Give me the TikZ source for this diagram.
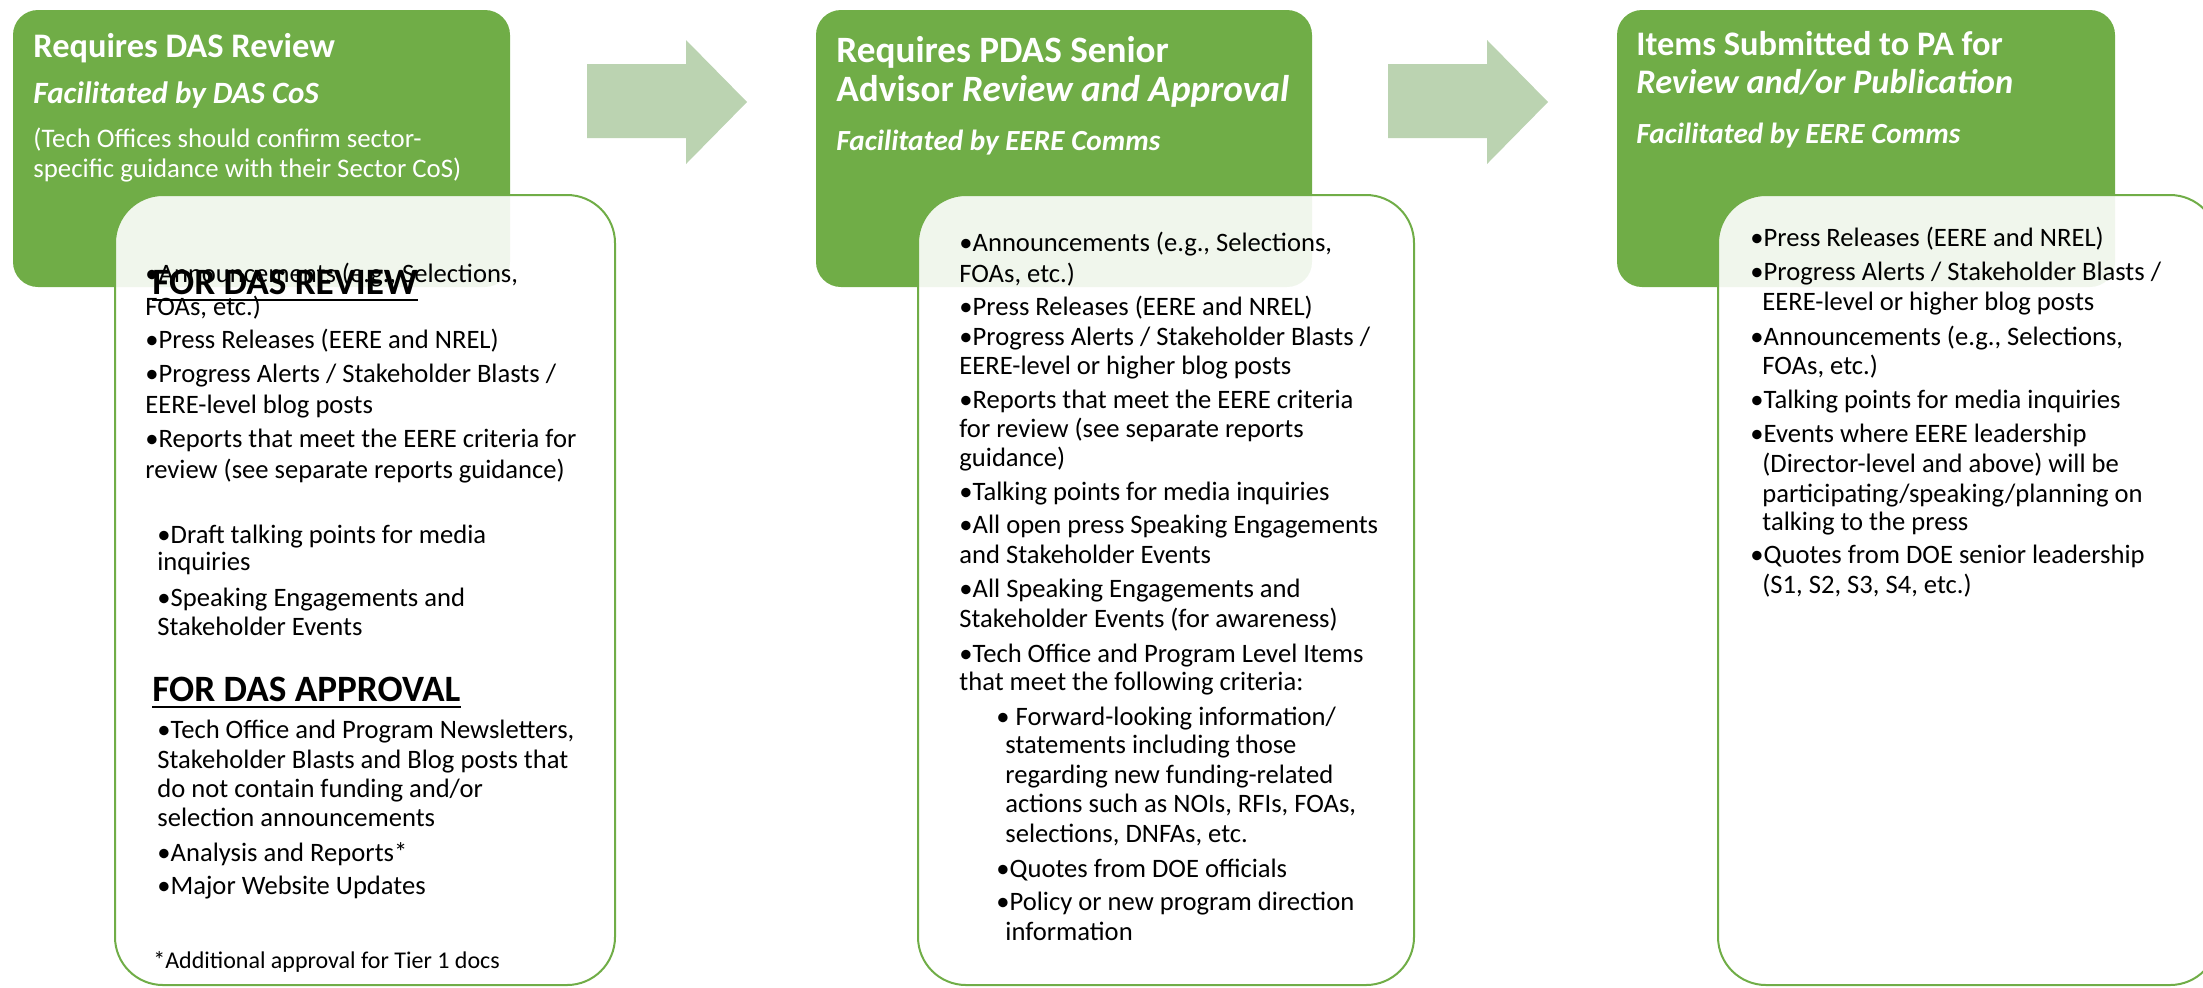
\documentclass[tikz,border=0pt]{standalone}
\usepackage{fontspec}
\setmainfont{Carlito}
\definecolor{ggreen}{HTML}{70AD47}
\definecolor{arrowc}{HTML}{BBD3B1}
\newcommand\bodyf{\fontsize{13.3}{16}\selectfont}
\newcommand\smallf{\fontsize{12}{14}\selectfont}
\newcommand\titf{\fontsize{18.6}{22}\selectfont\bfseries}
\newcommand\titsf{\fontsize{17.2}{20}\selectfont\bfseries}
\newcommand\subf{\fontsize{14.6}{17}\selectfont\bfseries\itshape}
\begin{document}
\begin{tikzpicture}[x=0.5pt,y=-0.5pt,
  gbox/.style={fill=ggreen,rounded corners=12.5pt},
  wbox/.style={draw=ggreen,line width=1pt,fill=white,fill opacity=0.9,rounded corners=24pt},
  harrow/.style={fill=arrowc},
  txt/.style={anchor=base west,inner sep=0pt,font=\bodyf,text=black},
  ttl/.style={anchor=base west,inner sep=0pt,font=\titf,text=white},
  sub/.style={anchor=base west,inner sep=0pt,font=\subf,text=white},
  wtxt/.style={anchor=base west,inner sep=0pt,font=\fontsize{13.4}{16}\selectfont,text=white},
  hdr/.style={anchor=base west,inner sep=0pt,font=\fontsize{18.6}{22}\selectfont\bfseries,text=black},
  uline/.style={line width=1.2pt,black}]
\useasboundingbox (0,0) rectangle (2203,987);
\clip (0,0) rectangle (2203,987);
% green boxes
\fill[gbox] (13,10) rectangle (510,287);
\fill[gbox] (816,10) rectangle (1312,287);
\fill[gbox] (1617,10) rectangle (2115,287);
% white boxes
\path[wbox] (115,195) rectangle (615,985);
\path[wbox] (918,195) rectangle (1414,985);
\path[wbox] (1718,195) rectangle (2218,985);
% arrows
\fill[harrow] (587,64) -- (686,64) -- (686,40) -- (747,102) -- (686,164) -- (686,138) -- (587,138) -- cycle;
\fill[harrow] (1388,64) -- (1487,64) -- (1487,40) -- (1548,102) -- (1487,164) -- (1487,138) -- (1388,138) -- cycle;
% column 1 header
\node[ttl,font=\titsf] (t1a) at (33,57) {Requires DAS Review};
\node[sub,font=\fontsize{15.5}{18}\selectfont\bfseries\itshape] (t1b) at (33,103) {Facilitated by DAS CoS};
\node[wtxt] (t1c) at (33,147) {(Tech Offices should confirm sector-};
\node[wtxt] (t1d) at (33,177) {specific guidance with their Sector CoS)};
% column 2 header
\node[ttl] (t2a) at (836,62) {Requires PDAS Senior};
\node[ttl] (t2b) at (836,101) {Advisor \textit{Review and Approval}};
\node[sub] (t2c) at (836,150) {Facilitated by EERE Comms};
% column 3 header
\node[ttl,font=\titsf] (t3a) at (1636,55) {Items Submitted to PA for};
\node[ttl,font=\titsf] (t3b) at (1636,93) {\textit{Review and/or Publication}};
\node[sub] (t3c) at (1636,143) {Facilitated by EERE Comms};
% column 1 body
\node[txt] (c1a) at (145,282) {•Announcements (e.g., Selections,};
\node[hdr] (c1h) at (152,294) {FOR DAS REVIEW};
\draw[uline] ([yshift=-3pt]c1h.base west) -- ([yshift=-3pt]c1h.base east);
\node[txt] (c1b) at (145,315) {FOAs, etc.)};
\node[txt] (c1c) at (145,348) {•Press Releases (EERE and NREL)};
\node[txt] (c1d) at (145,382) {•Progress Alerts / Stakeholder Blasts /};
\node[txt] (c1e) at (145,413) {EERE-level blog posts};
\node[txt] (c1f) at (145,447) {•Reports that meet the EERE criteria for};
\node[txt] (c1g) at (145,478) {review (see separate reports guidance)};
\node[txt] (c1i) at (157,543) {•Draft talking points for media};
\node[txt] (c1j) at (157,570) {inquiries};
\node[txt] (c1k) at (157,606) {•Speaking Engagements and};
\node[txt] (c1l) at (157,635) {Stakeholder Events};
\node[hdr] (c1m) at (152,701) {FOR DAS APPROVAL};
\draw[uline] ([yshift=-3pt]c1m.base west) -- ([yshift=-3pt]c1m.base east);
\node[txt] (c1n) at (157,738) {•Tech Office and Program Newsletters,};
\node[txt] (c1o) at (157,768) {Stakeholder Blasts and Blog posts that};
\node[txt] (c1p) at (157,797) {do not contain funding and/or};
\node[txt] (c1q) at (157,826) {selection announcements};
\node[txt] (c1r) at (157,861) {•Analysis and Reports*};
\node[txt] (c1s) at (157,894) {•Major Website Updates};
\node[txt,font=\smallf] (c1t) at (153,968) {*Additional approval for Tier 1 docs};
% column 2 body
\node[txt] (c2a) at (959,251) {•Announcements (e.g., Selections,};
\node[txt] (c2b) at (959,282) {FOAs, etc.)};
\node[txt] (c2c) at (959,315) {•Press Releases (EERE and NREL)};
\node[txt] (c2d) at (959,345) {•Progress Alerts / Stakeholder Blasts /};
\node[txt] (c2e) at (959,374) {EERE-level or higher blog posts};
\node[txt] (c2f) at (959,408) {•Reports that meet the EERE criteria};
\node[txt] (c2g) at (959,437) {for review (see separate reports};
\node[txt] (c2h) at (959,466) {guidance)};
\node[txt] (c2i) at (959,500) {•Talking points for media inquiries};
\node[txt] (c2j) at (959,533) {•All open press Speaking Engagements};
\node[txt] (c2k) at (959,563) {and Stakeholder Events};
\node[txt] (c2l) at (959,597) {•All Speaking Engagements and};
\node[txt] (c2m) at (959,627) {Stakeholder Events (for awareness)};
\node[txt] (c2n) at (959,662) {•Tech Office and Program Level Items};
\node[txt] (c2o) at (959,690) {that meet the following criteria:};
\node[txt] (c2p) at (996,725) {• Forward-looking information/};
\node[txt] (c2q) at (1005,753) {statements including those};
\node[txt] (c2r) at (1005,783) {regarding new funding-related};
\node[txt] (c2s) at (1005,812) {actions such as NOIs, RFIs, FOAs,};
\node[txt] (c2t) at (1005,842) {selections, DNFAs, etc.};
\node[txt] (c2u) at (996,877) {•Quotes from DOE officials};
\node[txt] (c2v) at (996,910) {•Policy or new program direction};
\node[txt] (c2w) at (1005,940) {information};
% column 3 body
\node[txt] (c3a) at (1750,246) {•Press Releases (EERE and NREL)};
\node[txt] (c3b) at (1750,280) {•Progress Alerts / Stakeholder Blasts /};
\node[txt] (c3c) at (1762,310) {EERE-level or higher blog posts};
\node[txt] (c3d) at (1750,345) {•Announcements (e.g., Selections,};
\node[txt] (c3e) at (1762,374) {FOAs, etc.)};
\node[txt] (c3f) at (1750,408) {•Talking points for media inquiries};
\node[txt] (c3g) at (1750,442) {•Events where EERE leadership};
\node[txt] (c3h) at (1762,472) {(Director-level and above) will be};
\node[txt] (c3i) at (1762,502) {participating/speaking/planning on};
\node[txt] (c3j) at (1762,530) {talking to the press};
\node[txt] (c3k) at (1750,563) {•Quotes from DOE senior leadership};
\node[txt] (c3l) at (1762,593) {(S1, S2, S3, S4, etc.)};
\end{tikzpicture}
\end{document}
